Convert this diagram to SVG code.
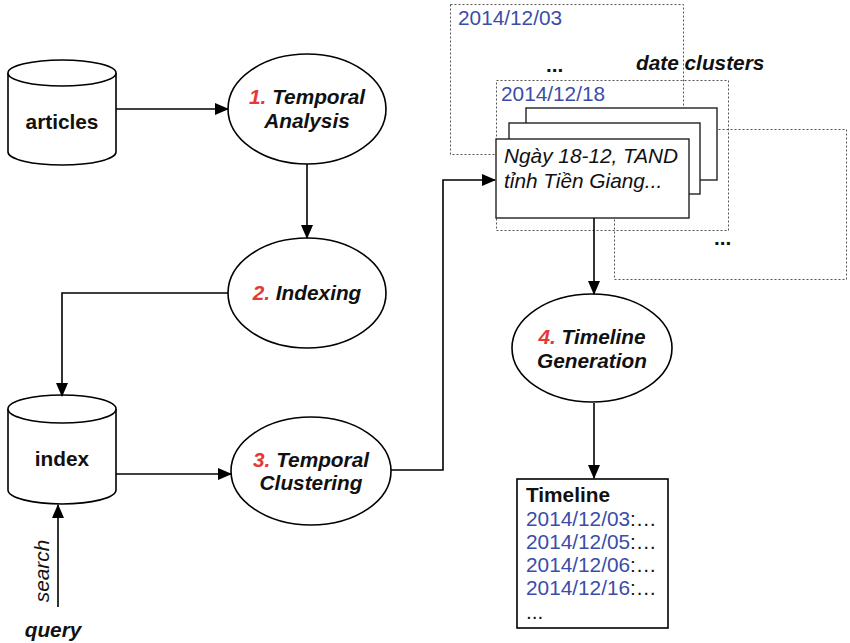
<svg xmlns="http://www.w3.org/2000/svg" width="850" height="643" viewBox="0 0 850 643">
<defs>
<marker id="ah" markerWidth="14" markerHeight="12" refX="13" refY="6" orient="auto" markerUnits="userSpaceOnUse">
<path d="M0,0 L14,6 L0,12 Z" fill="#000"/>
</marker>
<style>
text{font-family:"Liberation Sans",Arial,sans-serif;font-size:20.8px;fill:#111}
.b{font-weight:bold}
.bi{font-weight:bold;font-style:italic}
.i{font-style:italic}
.red{fill:#e53935}
.blue{fill:#3a4da8}
.shape{fill:#fff;stroke:#000;stroke-width:1.6}
.dot{fill:none;stroke:#555;stroke-width:1;stroke-dasharray:2,2}
.card{fill:#fff;stroke:#222;stroke-width:1.4}
.conn{fill:none;stroke:#000;stroke-width:1.6;marker-end:url(#ah)}
</style>
</defs>
<rect width="850" height="643" fill="#fff"/>

<g id="articles">
<path class="shape" d="M8,73 V152 A54,13 0 0 0 116,152 V73"/>
<ellipse class="shape" cx="62" cy="73" rx="54" ry="13"/>
<text class="b" x="62" y="129" text-anchor="middle">articles</text>
</g>

<g id="index">
<path class="shape" d="M8,409 V490 A54,14 0 0 0 116,490 V409"/>
<ellipse class="shape" cx="62" cy="409" rx="54" ry="14"/>
<text class="b" x="62" y="466" text-anchor="middle">index</text>
</g>

<g id="analysis">
<ellipse class="shape" cx="307" cy="109" rx="79" ry="55"/>
<text class="bi" x="307" y="104" text-anchor="middle"><tspan class="red">1.</tspan> Temporal</text>
<text class="bi" x="307" y="128" text-anchor="middle">Analysis</text>
</g>

<g id="indexing">
<ellipse class="shape" cx="307" cy="293" rx="79" ry="55"/>
<text class="bi" x="307" y="300" text-anchor="middle"><tspan class="red">2.</tspan> Indexing</text>
</g>

<g id="clustering">
<ellipse class="shape" cx="311" cy="471" rx="80" ry="54"/>
<text class="bi" x="311" y="467" text-anchor="middle"><tspan class="red">3.</tspan> Temporal</text>
<text class="bi" x="311" y="490" text-anchor="middle">Clustering</text>
</g>

<g id="generation">
<ellipse class="shape" cx="592" cy="348" rx="80" ry="54"/>
<text class="bi" x="592" y="344" text-anchor="middle"><tspan class="red">4.</tspan> Timeline</text>
<text class="bi" x="592" y="368" text-anchor="middle">Generation</text>
</g>

<g id="date-clusters">
<rect class="dot" x="450.5" y="4.5" width="233" height="150"/>
<text class="blue" x="458" y="25">2014/12/03</text>
<text class="b" x="546" y="72">...</text>
<text class="bi" x="636" y="70">date clusters</text>
<rect class="dot" x="614.5" y="129.5" width="232" height="150"/>
<rect class="dot" x="496.5" y="80.5" width="232" height="150" fill="#fff"/>
<text class="blue" x="501" y="101">2014/12/18</text>
<text class="b" x="714" y="245">...</text>
<rect class="card" x="526" y="108" width="191" height="72"/>
<rect class="card" x="509" y="123" width="191" height="71"/>
<rect class="card" x="496" y="139" width="193" height="79"/>
<text class="i" x="504" y="163">Ngày 18-12, TAND</text>
<text class="i" x="504" y="188">tỉnh Tiền Giang...</text>
</g>

<g id="timeline">
<rect class="shape" x="517" y="479" width="151" height="149"/>
<text class="b" x="526" y="502">Timeline</text>
<text x="526" y="526"><tspan class="blue">2014/12/03</tspan>:…</text>
<text x="526" y="549"><tspan class="blue">2014/12/05</tspan>:…</text>
<text x="526" y="572"><tspan class="blue">2014/12/06</tspan>:…</text>
<text x="526" y="595"><tspan class="blue">2014/12/16</tspan>:…</text>
<text x="526" y="619">...</text>
</g>

<g id="query">
<text class="bi" x="53" y="637" text-anchor="middle">query</text>
<text class="i" x="0" y="0" text-anchor="middle" transform="translate(49,571) rotate(-90)">search</text>
</g>

<g id="connectors">
<path class="conn" d="M116,109 H228"/>
<path class="conn" d="M307,164 V238"/>
<path class="conn" d="M228,293 H62 V396"/>
<path class="conn" d="M116,474 H231"/>
<path class="conn" d="M391,470 H443 V180 H495"/>
<path class="conn" d="M594,218 V294"/>
<path class="conn" d="M594,403 V478"/>
<path class="conn" d="M58,607 V505"/>
</g>
</svg>
